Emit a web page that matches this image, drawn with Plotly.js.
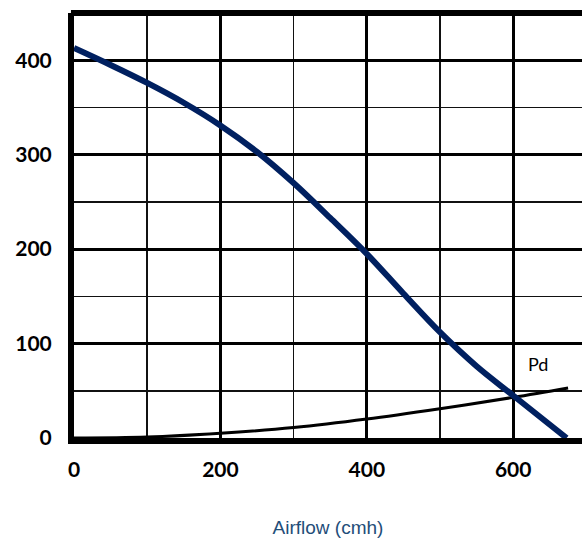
<!DOCTYPE html>
<html>
<head>
<meta charset="utf-8">
<script src="https://cdn.plot.ly/plotly-3.0.1.min.js"></script>
<style>html,body{margin:0;padding:0;background:#fff;}#chart{width:582px;height:540px;}</style>
</head>
<body>
<div id="chart"></div>
<script>
// Fan curve (static pressure vs airflow)
const fanAirflow = [0, 50, 100, 150, 200, 250, 300, 350, 400, 450, 500, 550, 600, 673];
const fanPressure = [413, 395, 376, 355, 331, 303, 270, 233, 195, 153, 112, 76, 45, 0];
// Pd curve (dynamic pressure)
const pdAirflow = [0, 100, 200, 300, 400, 500, 600, 675];
const pdPressure = [0, 1, 5, 11, 20, 31, 43, 53];
const pdLabel = "Pd";
const xTitle = "Airflow (cmh)";
const xTicks = [0, 200, 400, 600];
const yTicks = [0, 100, 200, 300, 400];

const traces = [
  {x: pdAirflow, y: pdPressure, type: 'scatter', mode: 'lines',
   line: {color: '#000000', width: 3, shape: 'spline', smoothing: 1}, hoverinfo: 'skip', cliponaxis: false},
  {x: fanAirflow, y: fanPressure, type: 'scatter', mode: 'lines',
   line: {color: '#002060', width: 6, shape: 'spline', smoothing: 1}, hoverinfo: 'skip', cliponaxis: false}
];

const tickFont = {family: 'Lato, "Liberation Sans", sans-serif', size: 21, color: '#000', weight: 'bold'};

const layout = {
  width: 582, height: 540,
  margin: {l: 74, r: 0, t: 13, b: 102},
  paper_bgcolor: '#fff', plot_bgcolor: '#fff',
  showlegend: false,
  xaxis: {
    range: [0, 694], tickvals: xTicks, ticktext: xTicks.map(String),
    showgrid: true, gridcolor: '#000', gridwidth: 3,
    minor: {dtick: 100, tick0: 0, showgrid: true, gridcolor: '#111', gridwidth: 1.5},
    zeroline: false, showline: true, linecolor: '#000', linewidth: 6,
    ticks: '', ticklabelstandoff: 8, tickfont: tickFont,
    title: {text: xTitle, font: {family: '"Liberation Sans", Arial, sans-serif', size: 19, color: '#1F4E79'}, standoff: 42}
  },
  yaxis: {
    range: [0, 450], tickvals: yTicks, ticktext: yTicks.map(String),
    showgrid: true, gridcolor: '#000', gridwidth: 3,
    minor: {dtick: 50, tick0: 0, showgrid: true, gridcolor: '#111', gridwidth: 1.5},
    zeroline: false, showline: true, linecolor: '#000', linewidth: 6,
    ticks: '', ticklabelstandoff: 12, tickfont: tickFont
  },
  shapes: [
    {type: 'line', xref: 'paper', yref: 'paper', x0: -0.006, x1: 1, y0: 1, y1: 1,
     line: {color: '#000', width: 6}, layer: 'above'}
  ],
  annotations: [
    {x: 634, y: 78, xref: 'x', yref: 'y', text: pdLabel, showarrow: false,
     font: {family: 'Lato, "Liberation Sans", sans-serif', size: 18, color: '#000'}}
  ]
};

Plotly.newPlot('chart', traces, layout, {staticPlot: true, displayModeBar: false});
</script>
</body>
</html>
